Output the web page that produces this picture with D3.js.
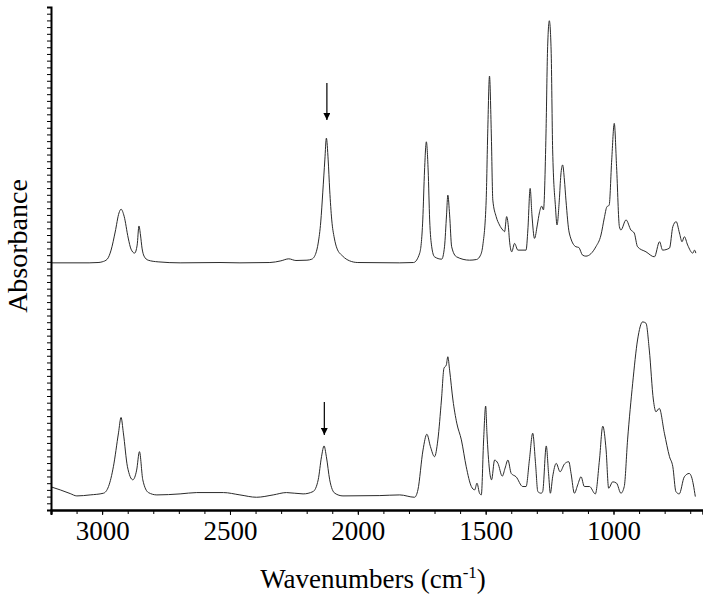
<!DOCTYPE html>
<html>
<head>
<meta charset="utf-8">
<script src="https://d3js.org/d3.v7.min.js"></script>
<style>
  html, body { margin: 0; padding: 0; background: #fff; }
  svg { display: block; }
  svg text { font-family: "Liberation Serif", "Times New Roman", "DejaVu Serif", serif !important; }
</style>
</head>
<body>
<div id="chart"></div>
<script>
// ---- Data (wavenumber cm-1, absorbance arbitrary units) ----
const topWavenumbers = [3200,3051,3016,3000,2980,2965,2949,2934,2926,2914,2898,2887,2873,2863,2856,2850,2844,2836,2820,2781,2695,2539,2461,2344,2301,2270,2242,2199,2180,2164,2155,2145,2137,2129,2123,2116,2110,2102,2092,2082,2059,2032,2000,1836,1782,1758,1746,1739,1732,1725,1719,1711,1700,1672,1661,1653,1648,1641,1633,1614,1563,1536,1520,1511,1498,1492,1485,1478,1472,1459,1446,1433,1426,1418,1410,1407,1398,1387,1374,1342,1335,1326,1319,1309,1298,1290,1281,1274,1264,1258,1251,1244,1238,1227,1221,1212,1206,1199,1192,1186,1173,1147,1136,1121,1108,1069,1049,1036,1026,1017,1007,997,988,977,971,951,932,919,906,873,840,820,808,781,768,755,742,732,723,710,690,683,678];
const topAbsorbance = [0.737,0.737,0.738,0.740,0.748,0.775,0.829,0.886,0.897,0.876,0.811,0.778,0.766,0.790,0.847,0.820,0.781,0.757,0.745,0.740,0.737,0.738,0.737,0.738,0.743,0.749,0.744,0.745,0.748,0.766,0.796,0.859,0.948,1.044,1.109,1.044,0.954,0.865,0.811,0.781,0.757,0.743,0.738,0.737,0.738,0.766,0.865,1.014,1.098,1.014,0.865,0.785,0.755,0.748,0.785,0.880,0.939,0.880,0.785,0.755,0.745,0.747,0.760,0.790,0.924,1.124,1.294,1.124,0.924,0.875,0.850,0.835,0.830,0.875,0.835,0.805,0.770,0.795,0.775,0.775,0.835,0.959,0.880,0.810,0.850,0.886,0.906,0.895,1.124,1.372,1.459,1.372,1.074,0.904,0.850,0.924,0.999,1.029,0.984,0.924,0.826,0.785,0.783,0.760,0.757,0.785,0.820,0.871,0.904,0.909,1.044,1.153,1.024,0.845,0.835,0.865,0.835,0.826,0.785,0.770,0.755,0.800,0.775,0.781,0.845,0.860,0.826,0.800,0.815,0.790,0.766,0.775,0.766];

const bottomWavenumbers = [3196,3164,3125,3099,3047,2995,2975,2956,2936,2926,2917,2901,2880,2865,2854,2841,2819,2786,2695,2630,2526,2461,2396,2331,2279,2214,2175,2155,2142,2132,2123,2110,2090,2058,1914,1836,1778,1765,1745,1730,1716,1700,1687,1673,1663,1654,1648,1641,1628,1613,1595,1576,1556,1543,1534,1524,1517,1508,1500,1495,1485,1477,1465,1452,1435,1424,1413,1400,1381,1355,1342,1329,1316,1305,1296,1283,1277,1263,1254,1247,1238,1224,1209,1192,1175,1166,1153,1140,1127,1114,1094,1071,1055,1042,1029,1019,1003,988,971,958,945,925,906,886,873,860,844,834,821,801,781,768,756,743,723,704,695,680];
const bottomAbsorbance = [0.068,0.060,0.049,0.042,0.045,0.050,0.070,0.129,0.230,0.276,0.230,0.129,0.090,0.119,0.174,0.090,0.052,0.045,0.048,0.052,0.052,0.045,0.038,0.045,0.052,0.048,0.055,0.090,0.159,0.191,0.159,0.090,0.050,0.042,0.043,0.045,0.038,0.060,0.179,0.226,0.189,0.159,0.209,0.328,0.423,0.432,0.457,0.417,0.328,0.259,0.209,0.129,0.070,0.060,0.080,0.050,0.045,0.209,0.310,0.229,0.119,0.090,0.149,0.139,0.101,0.125,0.149,0.109,0.099,0.070,0.070,0.149,0.229,0.139,0.055,0.050,0.055,0.191,0.109,0.050,0.099,0.139,0.114,0.137,0.144,0.109,0.050,0.075,0.099,0.070,0.070,0.048,0.149,0.250,0.179,0.065,0.084,0.080,0.050,0.070,0.209,0.378,0.507,0.561,0.557,0.477,0.328,0.293,0.303,0.229,0.159,0.129,0.055,0.048,0.099,0.109,0.099,0.040];

// arrows marking the azide band: [wavenumber, start absorbance, tip absorbance]
const arrowMarks = [[2121, 1.273, 1.163], [2131, 0.322, 0.224]];

const xTickLabels = [3000, 2500, 2000, 1500, 1000];
const xDomain = [3200, 650];
const yDomain = [0, 1.5];

const xLabel = "Wavenumbers (cm";
const xLabelSup = "-1";
const yLabel = "Absorbance";

// ---- Layout ----
const W = 703, H = 600;
const m = {left: 51, right: 0, top: 7, bottom: 90};
const serif = "'Liberation Serif', 'Times New Roman', 'DejaVu Serif', serif";

const svg = d3.select("#chart").append("svg").attr("width", W).attr("height", H);

const x = d3.scaleLinear().domain(xDomain).range([m.left, W - m.right]);
const y = d3.scaleLinear().domain(yDomain).range([H - m.bottom, m.top]);

const line = d3.line().x(d => x(d[0])).y(d => y(d[1])).curve(d3.curveMonotoneX);

const topData = topWavenumbers.map((w, i) => [w, topAbsorbance[i]]);
const bottomData = bottomWavenumbers.map((w, i) => [w, bottomAbsorbance[i]]);

svg.append("path").datum(topData).attr("d", line)
  .attr("fill", "none").attr("stroke", "#2a2a2a").attr("stroke-width", 1);
svg.append("path").datum(bottomData).attr("d", line)
  .attr("fill", "none").attr("stroke", "#2a2a2a").attr("stroke-width", 1);

// arrows
const defs = svg.append("defs");
defs.append("marker").attr("id", "ah").attr("viewBox", "0 0 10 10")
  .attr("refX", 10).attr("refY", 5).attr("markerWidth", 7).attr("markerHeight", 7)
  .attr("markerUnits", "userSpaceOnUse").attr("orient", "auto")
  .append("path").attr("d", "M0,0 L10,5 L0,10 Z").attr("fill", "#000");
arrowMarks.forEach(a => {
  svg.append("line")
    .attr("x1", x(a[0])).attr("x2", x(a[0]))
    .attr("y1", y(a[1])).attr("y2", y(a[2]))
    .attr("stroke", "#000").attr("stroke-width", 1.2)
    .attr("marker-end", "url(#ah)");
});

// x axis
const xMinor = d3.range(3200, 649, -100);
const xAxisG = svg.append("g").attr("transform", `translate(0,${H - m.bottom})`);
xAxisG.call(d3.axisBottom(x).tickValues(xMinor).tickSize(4).tickFormat(""));
const xMajorG = xAxisG.append("g")
  .call(d3.axisBottom(x).tickValues(xTickLabels).tickSize(5).tickPadding(6).tickFormat(d3.format("d")));
xAxisG.attr("font-family", serif);
xMajorG.attr("font-family", serif).attr("font-size", 27);
xAxisG.selectAll(".domain").attr("stroke", "#000").attr("stroke-width", 2);
xAxisG.selectAll(".tick line").attr("stroke", "#000").attr("stroke-width", 1);
xAxisG.selectAll(".tick text")
  .style("font-family", serif)
  .attr("font-size", 27).attr("fill", "#000");

// y axis
const yMinor = d3.range(0, 1.5001, 0.02);
const yAxisG = svg.append("g").attr("transform", `translate(${m.left},0)`);
yAxisG.call(d3.axisLeft(y).tickValues(yMinor).tickSize(4).tickFormat(""));
yAxisG.selectAll(".domain").attr("stroke", "#000").attr("stroke-width", 2);
yAxisG.selectAll(".tick line").attr("stroke", "#000").attr("stroke-width", 1);

// axis titles
const xt = svg.append("text")
  .attr("x", (m.left + W) / 2 - 4).attr("y", 588)
  .attr("text-anchor", "middle")
  .style("font-family", serif)
  .attr("font-size", 27).attr("fill", "#000");
xt.append("tspan").text(xLabel);
xt.append("tspan").attr("dy", -10).attr("font-size", 17).text(xLabelSup);
xt.append("tspan").attr("dy", 10).text(")");

svg.append("text")
  .attr("transform", `translate(27,${246}) rotate(-90)`)
  .attr("text-anchor", "middle")
  .style("font-family", serif)
  .attr("font-size", 28).attr("fill", "#000")
  .text(yLabel);
</script>
</body>
</html>
